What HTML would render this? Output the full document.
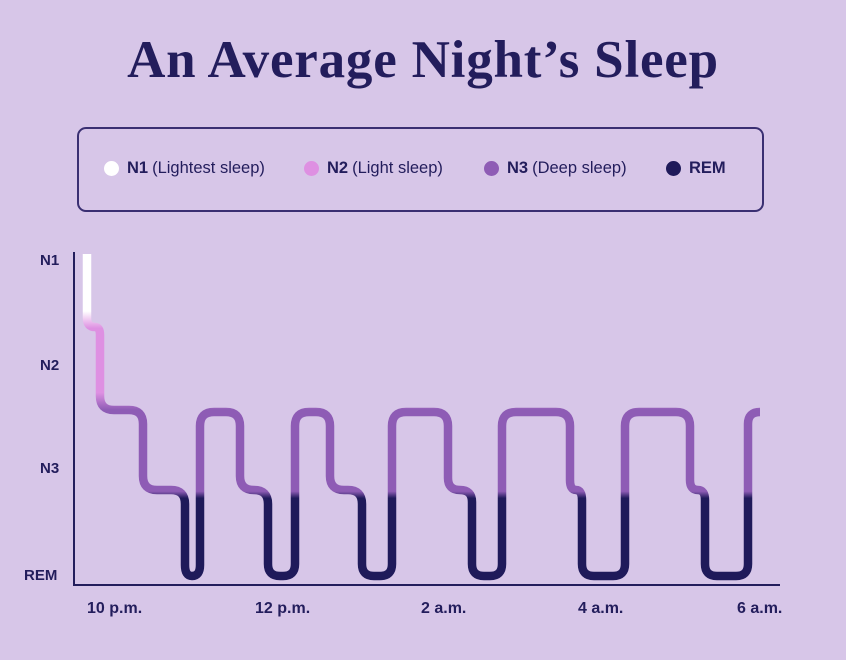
<!DOCTYPE html>
<html><head><meta charset="utf-8"><style>
html,body{margin:0;padding:0}
body{width:846px;height:660px;background:#d7c6e8;position:relative;overflow:hidden;font-family:"Liberation Sans",sans-serif;color:#231d5c}
.t{position:absolute;left:0;width:846px;top:30px;text-align:center;font-family:"Liberation Serif",serif;font-weight:bold;font-size:53px;letter-spacing:0.8px}
.lg{position:absolute;left:77px;top:127px;width:683px;height:81px;border:2px solid #3a2f72;border-radius:9px}
.it{position:absolute;top:159px;font-size:16.5px;display:flex;align-items:center;white-space:nowrap}
.it i{display:inline-block;width:15px;height:15px;border-radius:50%;margin-right:8px}
.it b{margin-right:4px}
.yl,.xl{position:absolute;font-size:15px;font-weight:bold}
.xl{font-size:16px}
</style></head><body>
<div class="t">An Average Night’s Sleep</div>
<div class="lg"></div>
<div class="it" style="left:104px"><i style="background:#fff"></i><b>N1</b>(Lightest sleep)</div>
<div class="it" style="left:304px"><i style="background:#de90e2"></i><b>N2</b>(Light sleep)</div>
<div class="it" style="left:484px"><i style="background:#8e5cb5"></i><b>N3</b>(Deep sleep)</div>
<div class="it" style="left:666px"><i style="background:#1f1a5a"></i><b>REM</b></div>
<div class="yl" style="left:40px;top:252px">N1</div>
<div class="yl" style="left:40px;top:357px">N2</div>
<div class="yl" style="left:40px;top:460px">N3</div>
<div class="yl" style="left:24px;top:567px">REM</div>
<div class="xl" style="left:87px;top:600px">10 p.m.</div>
<div class="xl" style="left:255px;top:600px">12 p.m.</div>
<div class="xl" style="left:421px;top:600px">2 a.m.</div>
<div class="xl" style="left:578px;top:600px">4 a.m.</div>
<div class="xl" style="left:737px;top:600px">6 a.m.</div>
<svg width="846" height="660" style="position:absolute;left:0;top:0">
<defs><linearGradient id="g" gradientUnits="userSpaceOnUse" x1="0" y1="250" x2="0" y2="590">
<stop offset="0" stop-color="#fff"/>
<stop offset="0.18" stop-color="#fff"/>
<stop offset="0.23" stop-color="#de90e2"/>
<stop offset="0.42" stop-color="#de90e2"/>
<stop offset="0.47" stop-color="#8e5cb5"/>
<stop offset="0.71" stop-color="#8e5cb5"/>
<stop offset="0.73" stop-color="#1f1a5a"/>
<stop offset="1" stop-color="#1f1a5a"/>
</linearGradient></defs>
<path d="M74,252 V585 H780" fill="none" stroke="#231d5c" stroke-width="2"/>
<path fill="none" stroke="url(#g)" stroke-width="8.5" stroke-linecap="butt" stroke-linejoin="round" d="M87,254 V318 Q87,327 95,327 Q100,327 100,335 V396 Q100,410 114,410 H129 Q143,410 143,424 V476 Q143,490 157,490 H171 Q185,490 185,504 V565 Q185,576 192,576 Q200,576 200,565 V426 Q200,412 214,412 H226 Q240,412 240,426 V476 Q240,490 254,490 Q268,490 268,504 V564 Q268,576 280,576 H283 Q295,576 295,564 V426 Q295,412 309,412 H316 Q330,412 330,426 V476 Q330,490 344,490 H348 Q362,490 362,504 V564 Q362,576 374,576 H380 Q392,576 392,564 V426 Q392,412 406,412 H434 Q448,412 448,426 V478 Q448,490 460,490 Q472,490 472,502 V564 Q472,576 484,576 H490 Q502,576 502,564 V426 Q502,412 516,412 H556 Q570,412 570,426 V480 Q570,490 576,490 Q582,490 582,500 V564 Q582,576 594,576 H613 Q625,576 625,564 V426 Q625,412 639,412 H676 Q690,412 690,426 V480 Q690,490 698,490 Q705,490 705,500 V564 Q705,576 717,576 H736 Q748,576 748,564 V424 Q748,412 760,412"/>
</svg>
</body></html>
